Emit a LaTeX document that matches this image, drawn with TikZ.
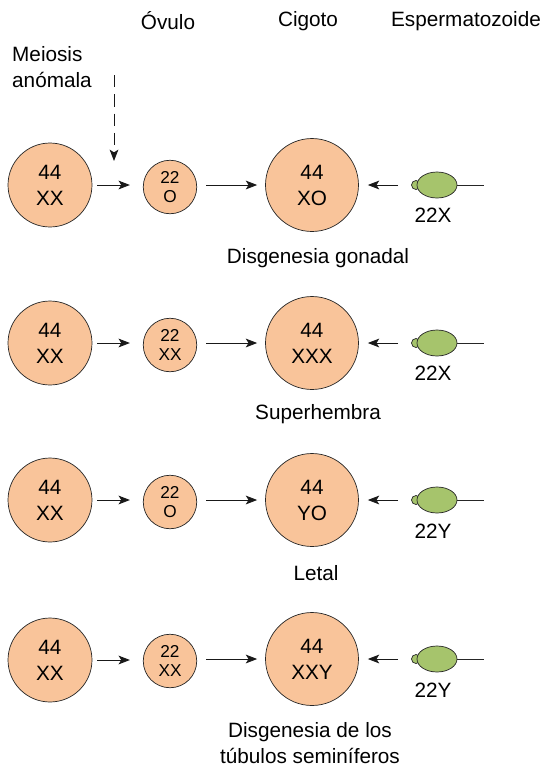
\documentclass[tikz,border=0pt]{standalone}
\usepackage{fontspec}
\setmainfont{Liberation Sans}
\usetikzlibrary{shapes.geometric,arrows.meta}
\definecolor{ovo}{HTML}{F9C49A}
\definecolor{esp}{HTML}{A6C46C}
\begin{document}
\begin{tikzpicture}[x=0.02cm, y=-0.02cm, every node/.style={font=\fontsize{11.8}{14.8}\selectfont},
  cel/.style={draw=black!85, thin, fill=ovo, circle, inner sep=0pt, align=center},
  madre/.style={cel, minimum size=1.68cm},
  ovulo/.style={cel, minimum size=1.07cm, font=\fontsize{9.8}{11}\selectfont},
  cig/.style={cel, minimum size=1.86cm},
  cabeza/.style={draw=black!85, thin, fill=esp, ellipse, inner sep=0pt, minimum width=0.8cm, minimum height=0.52cm},
  nudo/.style={draw=black!85, thin, fill=esp, circle, inner sep=0pt, minimum size=0.18cm},
  flecha/.style={-{Stealth[length=6.5pt,width=5pt,inset=1.6pt]}, semithin, black!90},
  semithin/.style={line width=0.5pt}]
\useasboundingbox (0,0) rectangle (539,768);
% encabezados
\node (hov) at (168,21) {Óvulo};
\node (hcig) at (308,21) {Cigoto};
\node (hesp) at (466,21) {Espermatozoide};
\node[align=left, anchor=west] (meio) at (6,67) {Meiosis\\anómala};
\coordinate (d0) at (114,75);
\coordinate (d1) at (114,161);
\draw[flecha, dash pattern=on 7pt off 4pt] (d0) -- (d1);
% fila 1
\node[madre] (m1) at (50,185) {44\\XX};
\node[ovulo] (o1) at (170,187) {22\\O};
\node[cig] (z1) at (312,185) {44\\XO};
\node[nudo] (n1) at (416,185) {};
\node[cabeza] (s1) at (437,185) {};
\coordinate (t1) at (484,185);
\draw[semithin, black!85] (s1.east) -- (t1);
\node (l1) at (433,215) {22X};
\draw[flecha, shorten <=0.1cm, shorten >=0.26cm] (m1.east) -- (m1.east -| o1.west);
\draw[flecha, shorten <=0.18cm, shorten >=0.16cm] (o1.east |- z1) -- (z1.west);
\draw[flecha, shorten <=0.26cm, shorten >=0.18cm] (n1.west) -- (z1.east);
\node (r1) at (318,258) {Disgenesia gonadal};
% fila 2
\node[madre] (m2) at (50,343) {44\\XX};
\node[ovulo] (o2) at (170,345) {22\\XX};
\node[cig] (z2) at (312,343) {44\\XXX};
\node[nudo] (n2) at (416,343) {};
\node[cabeza] (s2) at (437,343) {};
\coordinate (t2) at (484,343);
\draw[semithin, black!85] (s2.east) -- (t2);
\node (l2) at (433,373) {22X};
\draw[flecha, shorten <=0.1cm, shorten >=0.26cm] (m2.east) -- (m2.east -| o2.west);
\draw[flecha, shorten <=0.18cm, shorten >=0.16cm] (o2.east |- z2) -- (z2.west);
\draw[flecha, shorten <=0.26cm, shorten >=0.18cm] (n2.west) -- (z2.east);
\node (r2) at (318,414) {Superhembra};
% fila 3
\node[madre] (m3) at (50,500) {44\\XX};
\node[ovulo] (o3) at (170,502) {22\\O};
\node[cig] (z3) at (312,500) {44\\YO};
\node[nudo] (n3) at (416,500) {};
\node[cabeza] (s3) at (437,500) {};
\coordinate (t3) at (484,500);
\draw[semithin, black!85] (s3.east) -- (t3);
\node (l3) at (433,531) {22Y};
\draw[flecha, shorten <=0.1cm, shorten >=0.26cm] (m3.east) -- (m3.east -| o3.west);
\draw[flecha, shorten <=0.18cm, shorten >=0.16cm] (o3.east |- z3) -- (z3.west);
\draw[flecha, shorten <=0.26cm, shorten >=0.18cm] (n3.west) -- (z3.east);
\node (r3) at (316,573) {Letal};
% fila 4
\node[madre] (m4) at (50,660) {44\\XX};
\node[ovulo] (o4) at (170,661) {22\\XX};
\node[cig] (z4) at (312,659) {44\\XXY};
\node[nudo] (n4) at (416,659) {};
\node[cabeza] (s4) at (437,659) {};
\coordinate (t4) at (484,659);
\draw[semithin, black!85] (s4.east) -- (t4);
\node (l4) at (433,690) {22Y};
\draw[flecha, shorten <=0.1cm, shorten >=0.26cm] (m4.east) -- (m4.east -| o4.west);
\draw[flecha, shorten <=0.18cm, shorten >=0.16cm] (o4.east |- z4) -- (z4.west);
\draw[flecha, shorten <=0.26cm, shorten >=0.18cm] (n4.west) -- (z4.east);
\node[align=center] (r4) at (310,743) {Disgenesia de los\\túbulos seminíferos};
\end{tikzpicture}
\end{document}
